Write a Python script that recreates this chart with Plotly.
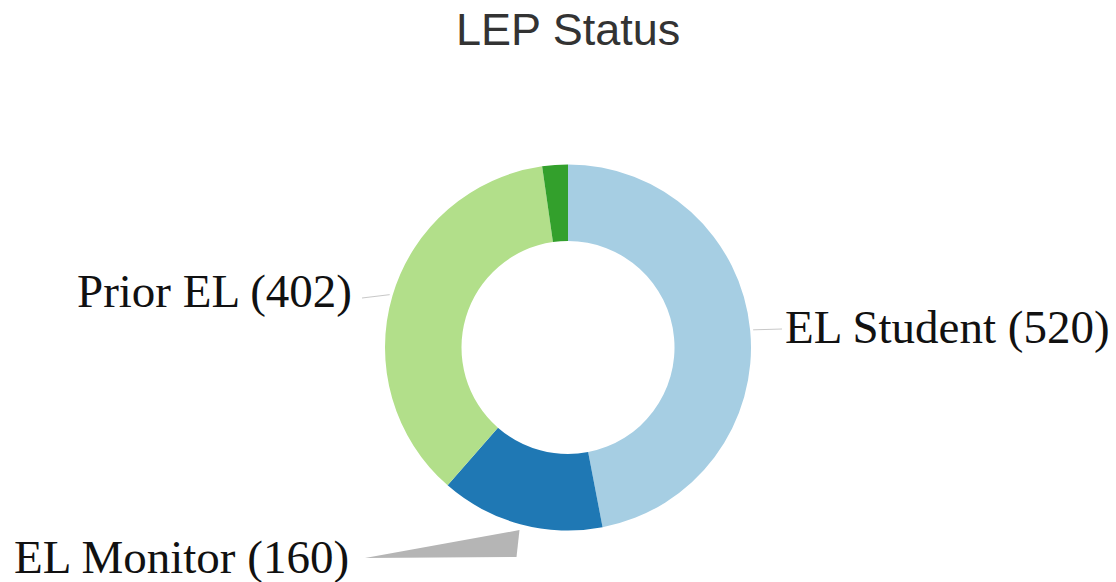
import math
import plotly.graph_objects as go

# ---- data ----
categories = ["EL Student", "EL Monitor", "Prior EL", "Other"]
values = [520, 160, 402, 25]
colors = ["#a6cee3", "#1f78b4", "#b2df8a", "#33a02c"]
show_label = [True, True, True, False]
title_text = "LEP Status"

# ---- geometry (pixels) ----
W, H = 1116, 582
CX, CY, R = 568, 347.5, 183
HOLE = 0.582

fig = go.Figure()
fig.add_trace(go.Pie(
    labels=categories,
    values=values,
    sort=False,
    direction="clockwise",
    rotation=0,
    hole=HOLE,
    marker=dict(colors=colors, line=dict(width=0)),
    textinfo="none",
    showlegend=False,
    domain=dict(x=[(CX - R) / W, (CX + R) / W],
                y=[1 - (CY + R) / H, 1 - (CY - R) / H]),
))

# helper pixel axis for annotations/leader lines
fig.add_trace(go.Scatter(x=[0, W], y=[0, H], mode="markers",
                         marker=dict(opacity=0), hoverinfo="skip", showlegend=False))

total = sum(values)
cum = 0
mids = []
for v in values:
    mids.append((cum + v / 2) / total * 2 * math.pi)
    cum += v

def edge_point(a, r):
    return CX + r * math.sin(a), CY - r * math.cos(a)

# label layout: (text x, text y, anchor, leader end x, leader end y)
label_layout = {
    "EL Student": (783, 327, "left", 782, 329),
    "Prior EL": (354, 291, "right", 362, 298),
    "EL Monitor": (12, 557, "left", 365, 558),
}

shapes = []
annotations = []
for cat, val, a, show in zip(categories, values, mids, show_label):
    if not show:
        continue
    tx, ty, anchor, ex, ey = label_layout[cat]
    annotations.append(dict(
        x=tx, y=ty, xref="x", yref="y", text=f"{cat} ({val})",
        showarrow=False, xanchor=anchor, yanchor="middle",
        font=dict(family="Times New Roman, Liberation Serif, serif", size=47, color="#111"),
    ))
    sx, sy = edge_point(a, R + 3)
    if cat == "EL Monitor":
        path = f"M {sx:.1f} {sy+3:.1f} L {sx-3:.1f} {ey-1:.1f} L {ex} {ey} Z"
        shapes.append(dict(type="path", xref="x", yref="y", path=path,
                           fillcolor="#b5b5b5", line=dict(width=0), layer="below"))
    else:
        shapes.append(dict(type="line", xref="x", yref="y", x0=sx, y0=sy, x1=ex, y1=ey,
                           line=dict(color="#c8c8c8", width=1)))

annotations.append(dict(
    x=CX, y=29, xref="x", yref="y", text=title_text, showarrow=False,
    xanchor="center", yanchor="middle",
    font=dict(family="Arial, Liberation Sans, sans-serif", size=45, color="#333"),
))

fig.update_layout(
    width=W, height=H,
    margin=dict(l=0, r=0, t=0, b=0),
    paper_bgcolor="white", plot_bgcolor="rgba(0,0,0,0)",
    xaxis=dict(range=[0, W], visible=False, fixedrange=True, domain=[0, 1]),
    yaxis=dict(range=[H, 0], visible=False, fixedrange=True, domain=[0, 1]),
    shapes=shapes,
    annotations=annotations,
)

fig.write_html(
    "out.html",
    config={"displayModeBar": False},
    post_script="document.body.style.margin='0';document.body.style.padding='0';document.body.style.overflow='hidden';",
)
